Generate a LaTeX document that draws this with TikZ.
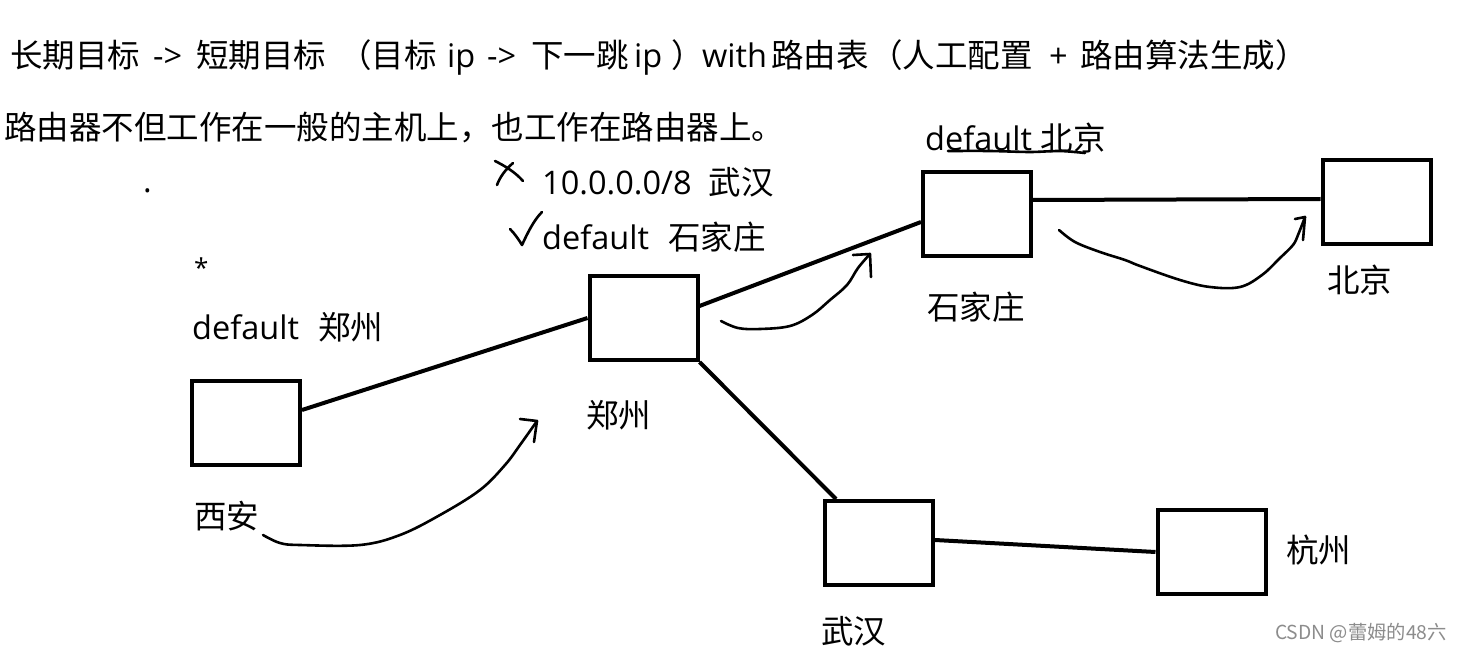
\documentclass[tikz,border=0pt]{standalone}
\usepackage{fontspec}
\setmainfont{Noto Sans CJK SC}
\newfontfamily\cjk{Noto Sans CJK SC}
\newfontfamily\lat{Open Sans}
\newcommand\seg[2]{\makebox[#1pt][l]{#2}}
\begin{document}
\begin{tikzpicture}[x=1pt,y=-1pt,
  router/.style={draw,line width=4pt,minimum width=108pt,minimum height=84pt,inner sep=0pt},
  link/.style={line width=4pt},
  hand/.style={line width=2.6pt,line cap=round,line join=round},
  txt/.style={font=\cjk\fontsize{32.5}{36}\selectfont,inner sep=0pt,anchor=west},
  wm/.style={font=\cjk\fontsize{19.3}{22}\selectfont,text=black!45,inner sep=0pt,anchor=east}]
\useasboundingbox (0,0) rectangle (1462,652);
\fill[white] (0,0) rectangle (1462,652);
% routers
\node[router] (xa) at (246,423) {};
\node[router] (zz) at (643.5,318) {};
\node[router] (sjz) at (977,214.5) {};
\node[router] (bj) at (1376.5,202) {};
\node[router] (wh) at (879,543) {};
\node[router] (hz) at (1211.5,552) {};
% links
\draw[link] ([yshift=13pt]xa.east) -- (zz.west);
\draw[link] ([yshift=12pt]zz.east) -- ([yshift=-7.5pt]sjz.west);
\draw[link] (zz.south east) -- ([xshift=-43pt]wh.north);
\draw[link] ([yshift=14.5pt]sjz.east) -- ([yshift=3pt]bj.west);
\draw[link] ([yshift=3pt]wh.east) -- (hz.west);
% labels
\node[txt] (lxa) at (194,516) {西安};
\node[txt] (lzz) at (586,415) {郑州};
\node[txt] (lsjz) at (927,307) {石家庄};
\node[txt] (lbj) at (1327,280) {北京};
\node[txt] (lwh) at (821,631) {武汉};
\node[txt] (lhz) at (1286,550) {杭州};
% text
\node[txt] (t1) at (10,57) {\seg{143}{长期目标}\seg{43}{\lat ->}\seg{143}{短期目标}\seg{108}{（目标}\seg{40}{\lat ip}\seg{44}{\lat ->}\seg{103}{下一跳}\seg{37}{\lat ip}\seg{31}{）}\seg{69}{\lat with}\seg{99}{路由表}\seg{179}{（人工配置}\seg{31}{\lat +}路由算法生成）};
\node[txt] (t2) at (4,128) {路由器不但工作在一般的主机上，也工作在路由器上。};
\node[txt] (dot) at (143,191) {\lat .};
\node[txt,font=\lat\fontsize{26}{30}\selectfont] (star) at (194,268) {*};
\node[txt] (dzz) at (192,327) {{\lat default}\hspace{19pt}郑州};
\node[txt] (dwh) at (542,182) {{\lat 10.0.0.0/8}\hspace{17pt}武汉};
\node[txt] (dsjz) at (542,237) {{\lat default}\hspace{19pt}石家庄};
\node[txt] (dbj) at (925,138) {{\lat default }北京};
% marks
\draw[hand] (495,161) .. controls (505,166) and (515,172) .. (523,181);
\draw[hand] (513,163) .. controls (505,170) and (500,177) .. (497,185);
\draw[hand] (510,229) .. controls (515,234) and (519,240) .. (522,245) .. controls (528,232) and (534,220) .. (542,212);
\draw[hand] plot[smooth] coordinates {(948,151) (990,151) (1030,152) (1060,151) (1085,153)};
% hand-drawn arrows
\coordinate (a1s) at (263,535);
\coordinate (a1t) at (537,421);
\draw[hand] plot[smooth,tension=0.6] coordinates {(a1s) (280,543) (300,545) (360,545) (400,535) (440,515) (480,490) (505,465) (520,445) (a1t)};
\draw[hand] (520,419) -- (a1t) -- (534,442);
\coordinate (a2s) at (721,321);
\coordinate (a2t) at (870,254);
\draw[hand] plot[smooth,tension=0.6] coordinates {(a2s) (738,328) (760,329) (790,326) (812,315) (830,300) (847,285) (858,268) (a2t)};
\draw[hand] (853,255) -- (a2t) -- (871,277);
\coordinate (a3s) at (1059,230);
\coordinate (a3t) at (1305,217);
\draw[hand] plot[smooth,tension=0.6] coordinates {(a3s) (1075,242) (1100,252) (1125,260) (1140,266) (1180,280) (1210,287) (1240,287) (1262,275) (1280,258) (1293,245) (1298,235) (a3t)};
\draw[hand] (1295,219) -- (a3t) -- (1303,240);
% watermark
\node[wm] (wmk) at (1447,633) {CSDN @蕾姆的48六};
\end{tikzpicture}
\end{document}
